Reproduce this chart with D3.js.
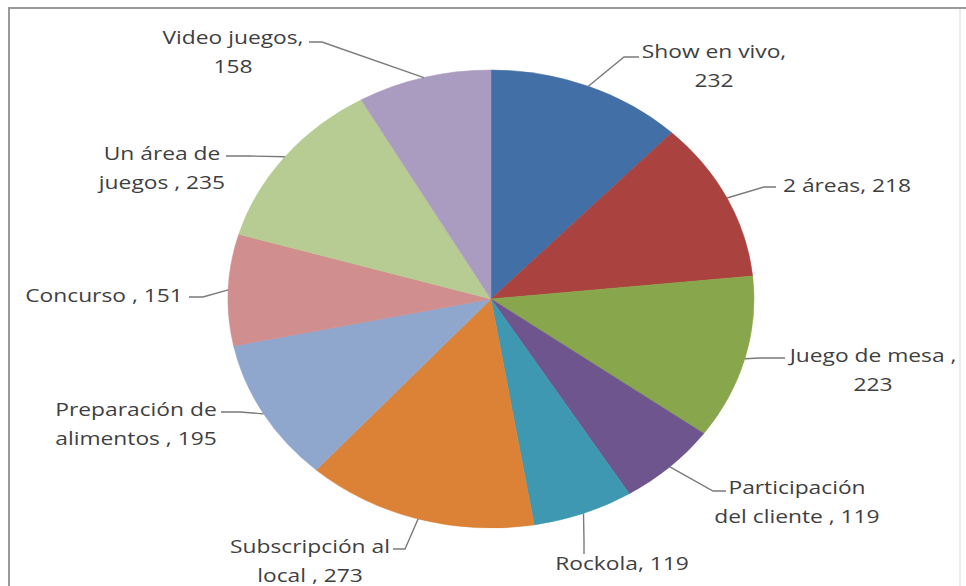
<!DOCTYPE html>
<html>
<head>
<meta charset="utf-8">
<script src="https://cdn.jsdelivr.net/npm/d3@7"></script>
<style>
  html, body { margin: 0; padding: 0; background: #ffffff; }
  svg { display: block; }
  text { font-family: "Open Sans", "DejaVu Sans", sans-serif; fill: #3f3f3f; }
</style>
</head>
<body>
<svg id="chart" width="966" height="586"></svg>
<script>
// Categories and values, in drawing order (clockwise from 12 o'clock)
const categories = [
  "Show en vivo", "2 áreas", "Juego de mesa", "Participación del cliente",
  "Rockola", "Subscripción al local", "Preparación de alimentos",
  "Concurso", "Un área de juegos", "Video juegos"
];
const values = [232, 218, 223, 119, 119, 273, 195, 151, 235, 158];

// Label text lines for each slice
const labelLines = [
  ["Show en vivo,", "232"],
  ["2 áreas, 218"],
  ["Juego de mesa ,", "223"],
  ["Participación", "del cliente , 119"],
  ["Rockola, 119"],
  ["Subscripción al", "local , 273"],
  ["Preparación de", "alimentos , 195"],
  ["Concurso , 151"],
  ["Un área de", "juegos , 235"],
  ["Video juegos,", "158"]
];

// Slice fills
const colors = [
  "#426fa6", "#aa4340", "#88a64b", "#6e558e", "#3e98b1",
  "#dc8237", "#8fa6cd", "#d08f8e", "#b7cc93", "#aa9cc0"
];

// Label placement: text centre x, first baseline y, leader end and elbow
const labelLayout = [
  { cx: 714, y: 58,  end: [639, 57],  elbow: [624, 57] },
  { cx: 847, y: 192, end: [776, 187], elbow: [764, 187] },
  { cx: 873, y: 362, end: [785, 358], elbow: [760, 358] },
  { cx: 797, y: 494, end: [726, 491], elbow: [713, 491] },
  { cx: 622, y: 570, end: [584, 554], elbow: [584, 540] },
  { cx: 310, y: 553, end: [393, 549], elbow: [405, 549] },
  { cx: 136, y: 416, end: [221, 412], elbow: [240, 412] },
  { cx: 104, y: 302, end: [189, 297], elbow: [203, 297] },
  { cx: 162, y: 160, end: [226, 156], elbow: [250, 156] },
  { cx: 233, y: 44,  end: [309, 42],  elbow: [322, 42] }
];

const svg = d3.select("#chart");

// Frame
svg.append("line").attr("x1", 9).attr("y1", 7).attr("x2", 9).attr("y2", 586)
  .attr("stroke", "#9a9a9a").attr("stroke-width", 2);
svg.append("line").attr("x1", 8).attr("y1", 8).attr("x2", 966).attr("y2", 8)
  .attr("stroke", "#9a9a9a").attr("stroke-width", 2);
svg.append("line").attr("x1", 960).attr("y1", 9).attr("x2", 960).attr("y2", 586)
  .attr("stroke", "#ececec").attr("stroke-width", 2);

// Pie geometry (drawn as an ellipse: circle scaled horizontally)
const cx = 491, cy = 299, ry = 229, rx = 263;
const sx = rx / ry;

const pie = d3.pie().sort(null).value(d => d)
  .startAngle(0).endAngle(2 * Math.PI);
const arcs = pie(values);
const arc = d3.arc().innerRadius(0).outerRadius(ry);

const pieG = svg.append("g")
  .attr("transform", `translate(${cx},${cy}) scale(${sx},1)`);

pieG.selectAll("path.slice")
  .data(arcs)
  .join("path")
  .attr("class", "slice")
  .attr("d", arc)
  .attr("fill", (d, i) => colors[i])
  .attr("stroke", (d, i) => colors[i])
  .attr("stroke-width", 0.5);

// Point on the pie edge at a slice's mid angle
function edgePoint(d) {
  const a = (d.startAngle + d.endAngle) / 2;
  return [cx + rx * Math.sin(a), cy - ry * Math.cos(a)];
}

// Leader lines
const lineGen = d3.line();
svg.selectAll("path.leader")
  .data(arcs)
  .join("path")
  .attr("class", "leader")
  .attr("d", (d, i) => {
    const L = labelLayout[i];
    return lineGen([edgePoint(d), L.elbow, L.end]);
  })
  .attr("fill", "none")
  .attr("stroke", "#7a7a7a")
  .attr("stroke-width", 1.4);

// Labels
const textScaleX = 1.2;
const lineHeight = 29;
const labels = svg.selectAll("g.label")
  .data(arcs)
  .join("g")
  .attr("class", "label")
  .attr("transform", (d, i) => `translate(${labelLayout[i].cx},${labelLayout[i].y}) scale(${textScaleX},1)`);

labels.each(function(d, i) {
  const g = d3.select(this);
  labelLines[i].forEach((t, k) => {
    g.append("text")
      .attr("x", 0)
      .attr("y", k * lineHeight)
      .attr("text-anchor", "middle")
      .attr("font-size", 19)
      .text(t);
  });
});
</script>
</body>
</html>
